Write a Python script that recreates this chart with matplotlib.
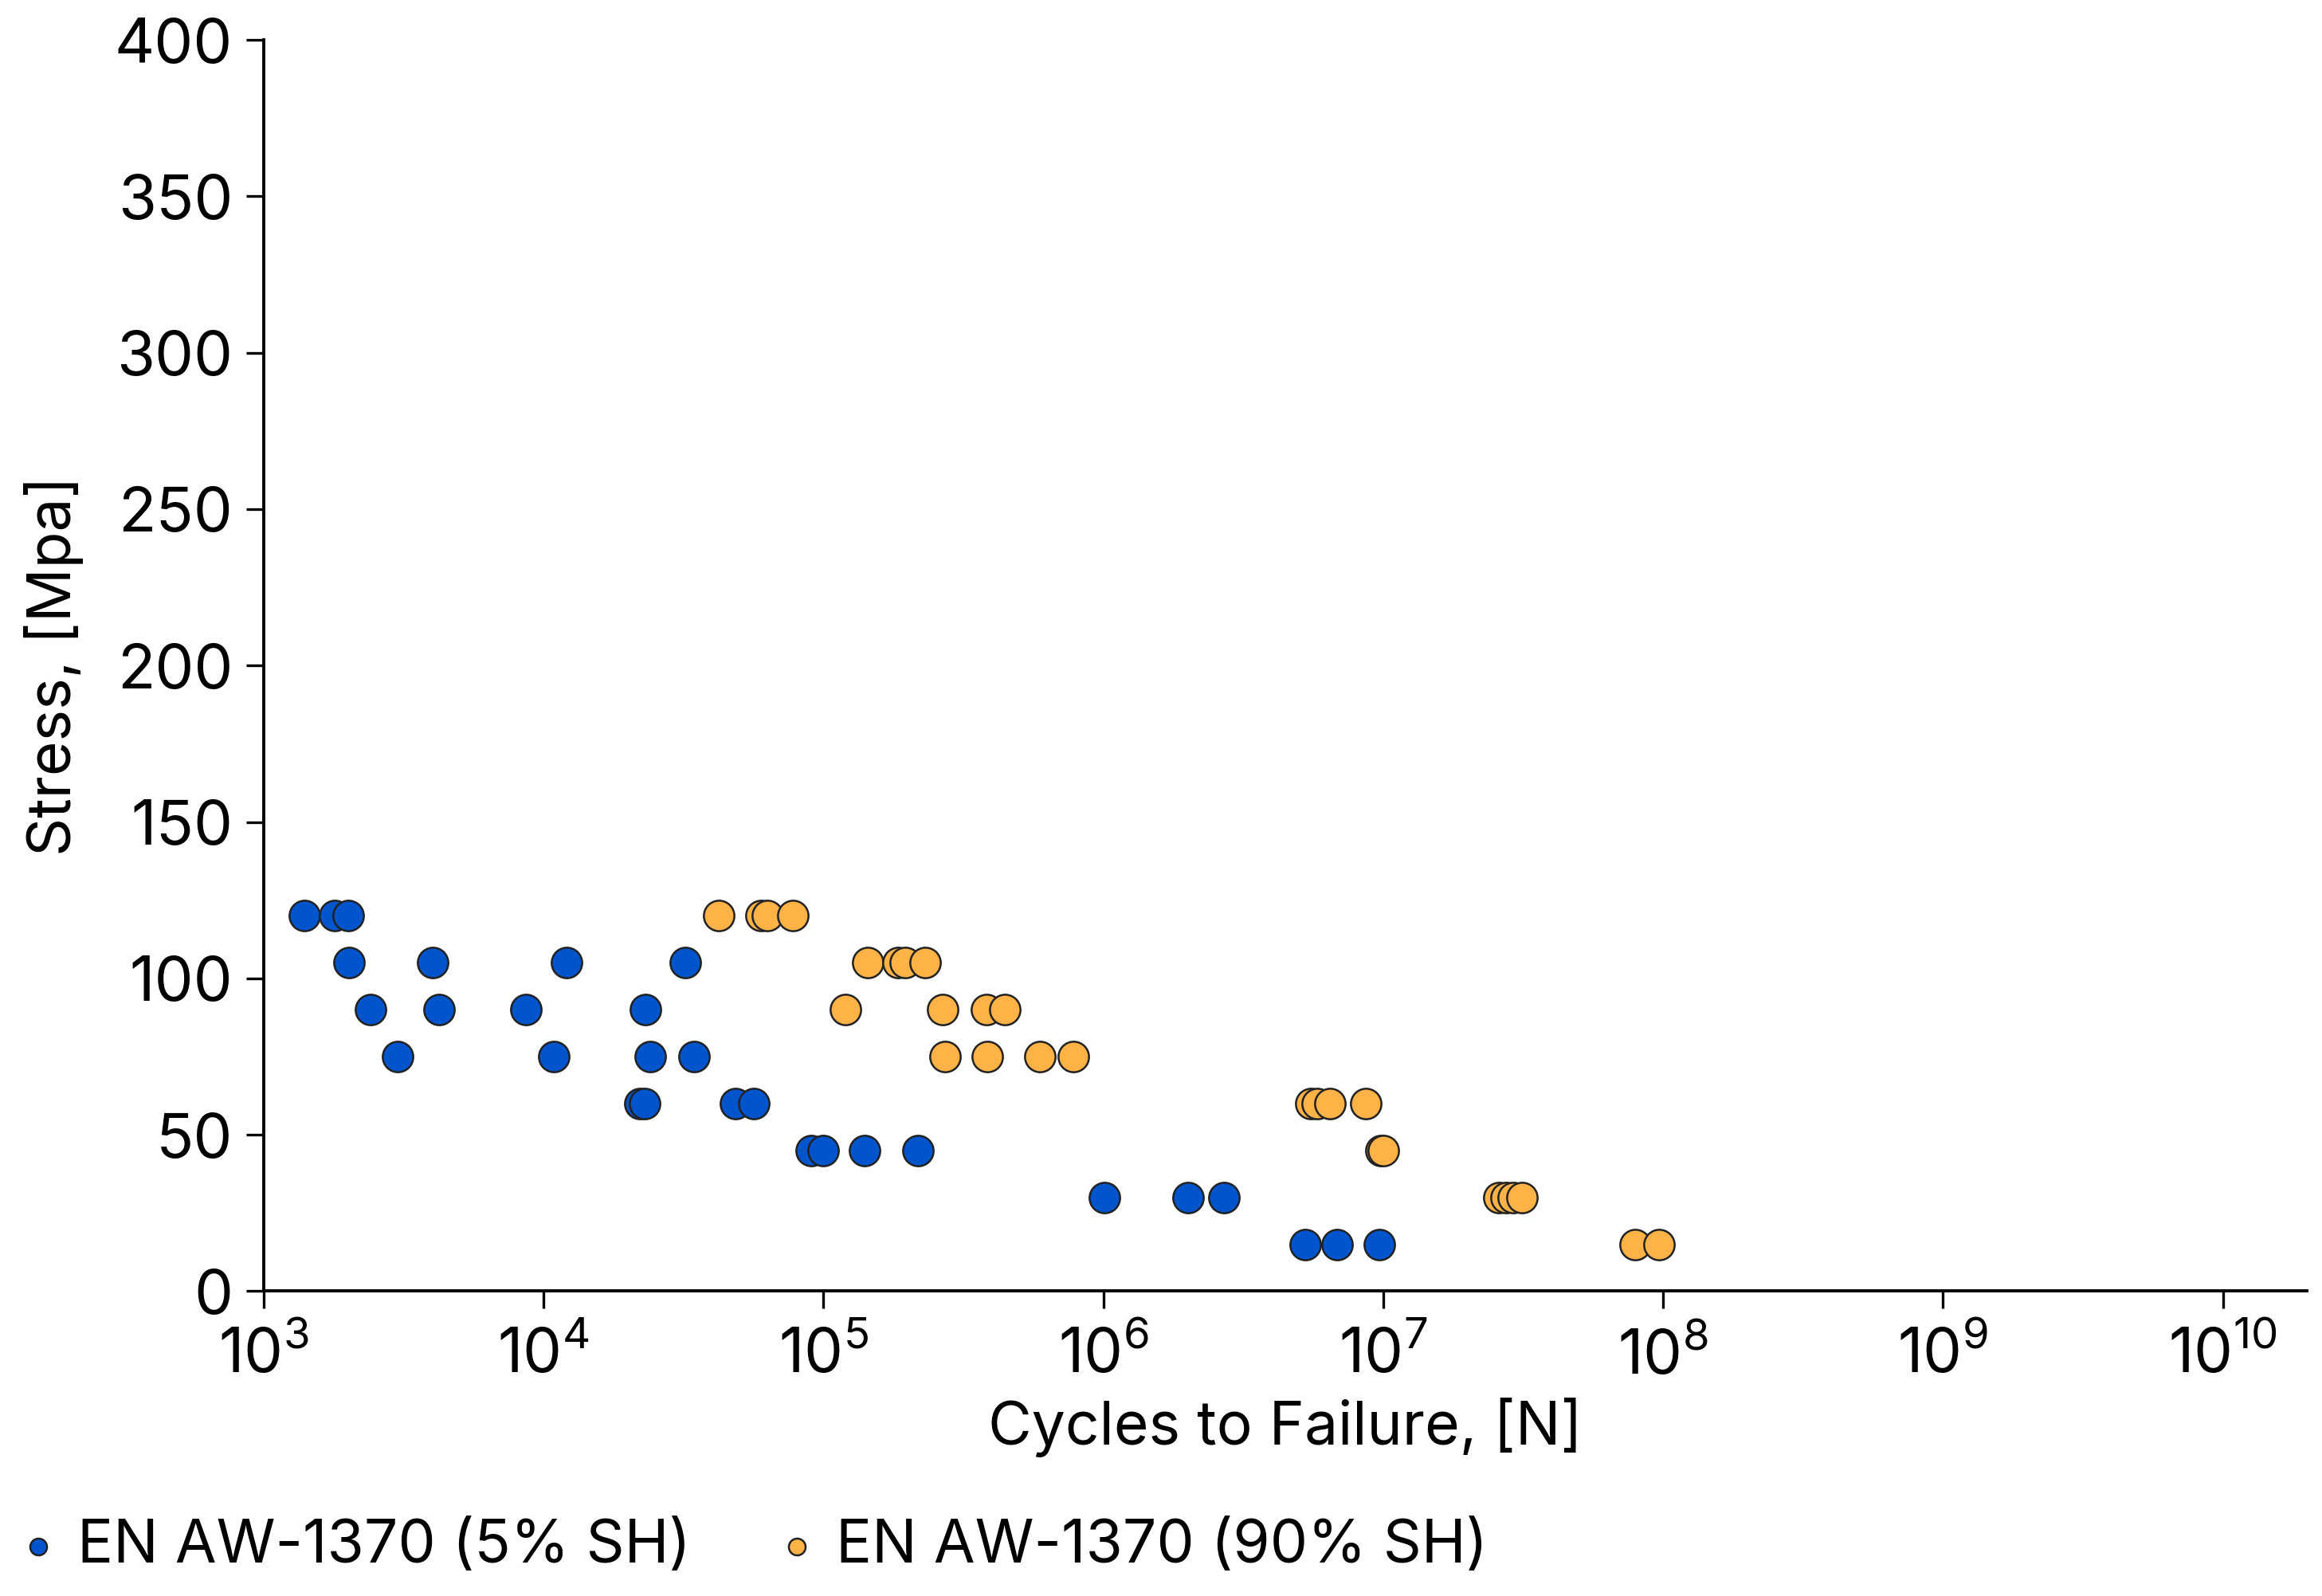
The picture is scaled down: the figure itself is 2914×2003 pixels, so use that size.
import matplotlib
matplotlib.use("Agg")
import matplotlib.pyplot as plt
from matplotlib.ticker import LogLocator, LogFormatterMathtext, NullLocator

plt.rcParams['font.family'] = ['Inter', 'DejaVu Sans']
plt.rcParams['mathtext.fontset'] = 'custom'
plt.rcParams['mathtext.rm'] = 'Inter'
plt.rcParams['mathtext.it'] = 'Inter'

# data: cycles to failure and stress (MPa)
cycles_5 = [1400, 1790, 2000,
            2010, 4020, 12050, 32100,
            2410, 4220, 8630, 23100,
            3010, 10900, 24100, 34500,
            22000, 23000, 48500, 56500,
            90500, 99600, 140600, 217000,
            1.007e6, 2.01e6, 2.70e6,
            5.25e6, 6.82e6, 9.7e6]
stress_5 = [120, 120, 120,
            105, 105, 105, 105,
            90, 90, 90, 90,
            75, 75, 75, 75,
            60, 60, 60, 60,
            45, 45, 45, 45,
            30, 30, 30,
            15, 15, 15]

cycles_90 = [42200, 59700, 63200, 77800,
             143800, 185000, 196000, 230000,
             120000, 266700, 381000, 443000,
             271000, 385000, 593000, 781000,
             5.5e6, 5.82e6, 6.44e6, 8.67e6,
             9.8e6, 1.0e7,
             2.59e7, 2.74e7, 2.92e7, 3.13e7,
             7.96e7, 9.64e7]
stress_90 = [120, 120, 120, 120,
             105, 105, 105, 105,
             90, 90, 90, 90,
             75, 75, 75, 75,
             60, 60, 60, 60,
             45, 45,
             30, 30, 30, 30,
             15, 15]

label_5 = 'EN AW-1370 (5% SH)'
label_90 = 'EN AW-1370 (90% SH)'
blue = '#0055CC'
orange = '#FFB347'

fig = plt.figure(figsize=(14.57, 10.015), dpi=200)
ax = fig.add_axes([0.1136, 0.191, 0.88, 0.784])

ax.scatter(cycles_5, stress_5, s=190, c=blue, edgecolors='#222222', linewidths=0.9, label=label_5, zorder=3)
ax.scatter(cycles_90, stress_90, s=190, c=orange, edgecolors='#222222', linewidths=0.9, label=label_90, zorder=3)

ax.set_xscale('log')
ax.set_xlim(1e3, 2e10)
ax.set_ylim(0, 400)
ax.xaxis.set_major_locator(LogLocator(base=10, numticks=20))
ax.xaxis.set_major_formatter(LogFormatterMathtext())
ax.xaxis.set_minor_locator(NullLocator())
ax.set_yticks(range(0, 401, 50))

for side in ['top', 'right']:
    ax.spines[side].set_visible(False)
for side in ['left', 'bottom']:
    ax.spines[side].set_linewidth(1.4)
    ax.spines[side].set_color('black')

ax.tick_params(axis='both', direction='out', length=8, width=1.2, labelsize=28, colors='black')
ax.tick_params(axis='x', pad=8)
ax.tick_params(axis='y', pad=6)

ax.set_xlabel('Cycles to Failure, [N]', fontsize=27, labelpad=5)
ax.set_ylabel('Stress, [Mpa]', fontsize=27, labelpad=14)

fig.legend(loc='lower left', bbox_to_anchor=(-0.013, -0.013), ncol=2, frameon=False,
           fontsize=27, markerscale=0.55, handlelength=0.9, handletextpad=0.2,
           columnspacing=1.33, borderaxespad=0.3)

plt.savefig('out.png', dpi=200)
plt.close()
